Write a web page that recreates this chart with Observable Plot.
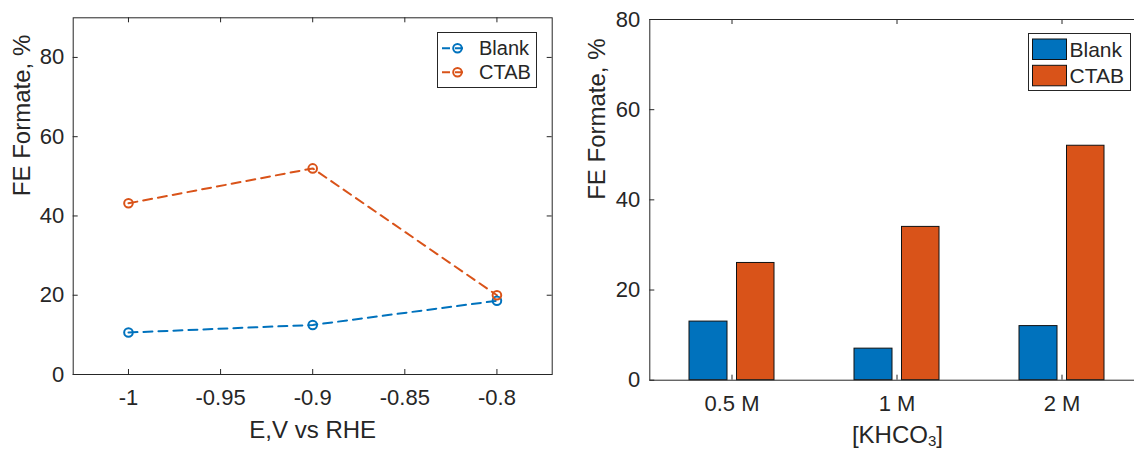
<!DOCTYPE html>
<html><head><meta charset="utf-8">
<script src="https://cdn.jsdelivr.net/npm/d3@7"></script>
<script src="https://cdn.jsdelivr.net/npm/@observablehq/plot@0.6"></script>
<style>
html,body{margin:0;padding:0;background:#fff;}
#wrap{position:relative;width:1134px;height:450px;overflow:hidden;background:#fff;font-family:"Liberation Sans",Arial,sans-serif;}
.panel{position:absolute;top:0;}
#overlay{position:absolute;left:0;top:0;}
</style></head><body><div id="wrap"></div>
<script>
// ---- data ----
const series = ["Blank", "CTAB"];
const seriesColors = ["#0072BD", "#D95319"];
const potentials = [-1, -0.9, -0.8];
const blankFE = [10.6, 12.5, 18.6];
const ctabFE = [43.2, 52, 20];
const potentialTicks = [-1, -0.95, -0.9, -0.85, -0.8];
const feTicksLeft = [0, 20, 40, 60, 80];
const concentrations = ["0.5 M", "1 M", "2 M"];
const blankBarFE = [13, 7, 12];
const ctabBarFE = [26, 34, 52];
const feTicksRight = [0, 20, 40, 60, 80];

const ink = "#262626";
const font = "'Liberation Sans', Arial, Helvetica, sans-serif";
const tickFont = 22, labelFont = 24;
const wrap = document.getElementById("wrap");

// ---- left panel ----
const lineData = [
  ...potentials.map((p, i) => ({series: "Blank", E: p, FE: blankFE[i]})),
  ...potentials.map((p, i) => ({series: "CTAB", E: p, FE: ctabFE[i]}))
];
const L = {width: 570, height: 450, mL: 72.7, mR: 18.3, mT: 17.3, mB: 76};
const LW = L.width - L.mL - L.mR, LH = L.height - L.mT - L.mB;
const tick = 5;
const left = Plot.plot({
  width: L.width, height: L.height,
  marginLeft: L.mL, marginRight: L.mR, marginTop: L.mT, marginBottom: L.mB,
  style: {fontFamily: font, color: ink, background: "transparent", overflow: "visible"},
  x: {domain: [-1.03, -0.77]},
  y: {domain: [0, 90]},
  color: {domain: series, range: seriesColors},
  marks: [
    Plot.line(lineData, {x: "E", y: "FE", z: "series", stroke: "series", strokeWidth: 2, strokeDasharray: "9,6"}),
    Plot.dot(lineData, {x: "E", y: "FE", stroke: "series", r: 4.3, strokeWidth: 2, fill: "none"}),
    Plot.tickX(potentialTicks, {x: d => d, stroke: ink, insetTop: LH - tick}),
    Plot.tickX(potentialTicks, {x: d => d, stroke: ink, insetBottom: LH - tick}),
    Plot.tickY(feTicksLeft, {y: d => d, stroke: ink, insetRight: LW - tick}),
    Plot.tickY(feTicksLeft, {y: d => d, stroke: ink, insetLeft: LW - tick}),
    Plot.frame({stroke: ink}),
    Plot.axisX({ticks: potentialTicks, tickSize: 0, tickPadding: 14.5, fontSize: tickFont, tickFormat: d => String(d), label: null}),
    Plot.axisY({ticks: feTicksLeft, tickSize: 0, tickPadding: 9, fontSize: tickFont, label: null}),
    Plot.text(["E,V vs RHE"], {frameAnchor: "bottom", dy: 63, lineAnchor: "bottom", fontSize: labelFont, fill: ink}),
    Plot.text(["FE Formate, %"], {frameAnchor: "left", dx: -51.3, rotate: -90, lineAnchor: "middle", fontSize: labelFont, fill: ink})
  ]
});
left.classList.add("panel");
left.style.left = "0px";
wrap.appendChild(left);

// ---- right panel ----
const R = {left: 580, width: 580, height: 450, mL: 69.3, mR: 15.5, mT: 19, mB: 70.3};
const RW = R.width - R.mL - R.mR, RH = R.height - R.mT - R.mB;
const blankBars = concentrations.map((c, i) => ({conc: c, FE: blankBarFE[i]}));
const ctabBars = concentrations.map((c, i) => ({conc: c, FE: ctabBarFE[i]}));
const right = Plot.plot({
  width: R.width, height: R.height,
  marginLeft: R.mL, marginRight: R.mR, marginTop: R.mT, marginBottom: R.mB,
  style: {fontFamily: font, color: ink, background: "transparent", overflow: "visible"},
  x: {domain: concentrations, padding: 0},
  y: {domain: [0, 80]},
  marks: [
    Plot.barY(blankBars, {x: "conc", y: "FE", fill: seriesColors[0], stroke: "#111", strokeWidth: 1, insetLeft: 40, insetRight: 87}),
    Plot.barY(ctabBars, {x: "conc", y: "FE", fill: seriesColors[1], stroke: "#111", strokeWidth: 1, insetLeft: 87.5, insetRight: 40}),
    Plot.tickX(concentrations, {x: d => d, stroke: ink, insetTop: RH - tick}),
    Plot.tickX(concentrations, {x: d => d, stroke: ink, insetBottom: RH - tick}),
    Plot.tickY(feTicksRight, {y: d => d, stroke: ink, insetRight: RW - tick}),
    Plot.tickY(feTicksRight, {y: d => d, stroke: ink, insetLeft: RW - tick}),
    Plot.frame({stroke: ink}),
    Plot.axisX({tickSize: 0, tickPadding: 15.5, fontSize: tickFont, label: null}),
    Plot.axisY({ticks: feTicksRight, tickSize: 0, tickPadding: 9.5, fontSize: tickFont, label: null}),
    Plot.text(["[KHCO3]"], {frameAnchor: "bottom", dy: 62.3, lineAnchor: "bottom", fontSize: labelFont, fill: ink}),
    Plot.text(["FE Formate, %"], {frameAnchor: "left", dx: -52.5, rotate: -90, lineAnchor: "middle", fontSize: labelFont, fill: ink})
  ]
});
right.classList.add("panel");
right.style.left = R.left + "px";
wrap.appendChild(right);

// subscript in [KHCO3]
d3.select(right).selectAll("text").each(function() {
  if (this.textContent === "[KHCO3]") {
    const t = d3.select(this);
    t.text(null);
    t.append("tspan").text("[KHCO");
    t.append("tspan").attr("font-size", 15).attr("dy", 3).text("3");
    t.append("tspan").attr("dy", -3).text("]");
  }
});

// ---- legends ----
const ov = d3.select(wrap).append("svg").attr("id", "overlay")
  .attr("width", 1134).attr("height", 450)
  .style("font-family", font);

// left legend
const lg = ov.append("g");
lg.append("rect").attr("x", 437.5).attr("y", 32.5).attr("width", 99).attr("height", 55)
  .attr("fill", "#fff").attr("stroke", ink).attr("stroke-width", 1);
series.forEach((s, i) => {
  const cy = 48.3 + i * 24;
  lg.append("line").attr("x1", 442).attr("x2", 463).attr("y1", cy).attr("y2", cy)
    .attr("stroke", seriesColors[i]).attr("stroke-width", 2).attr("stroke-dasharray", "8,5");
  lg.append("circle").attr("cx", 457.5).attr("cy", cy).attr("r", 4.3)
    .attr("fill", "none").attr("stroke", seriesColors[i]).attr("stroke-width", 2);
  lg.append("text").attr("x", 479).attr("y", cy).attr("dy", "0.35em")
    .attr("font-size", 20).attr("fill", ink).text(s);
});

// right legend
const rg = ov.append("g");
rg.append("rect").attr("x", 1028.5).attr("y", 33.5).attr("width", 102).attr("height", 57)
  .attr("fill", "#fff").attr("stroke", ink).attr("stroke-width", 1);
series.forEach((s, i) => {
  const y0 = 39 + i * 26.3;
  rg.append("rect").attr("x", 1032.5).attr("y", y0).attr("width", 34).attr("height", 20.5)
    .attr("fill", seriesColors[i]).attr("stroke", "#111").attr("stroke-width", 1);
  rg.append("text").attr("x", 1069.5).attr("y", y0 + 10.3).attr("dy", "0.35em")
    .attr("font-size", 21).attr("fill", ink).text(s);
});
</script></body></html>
